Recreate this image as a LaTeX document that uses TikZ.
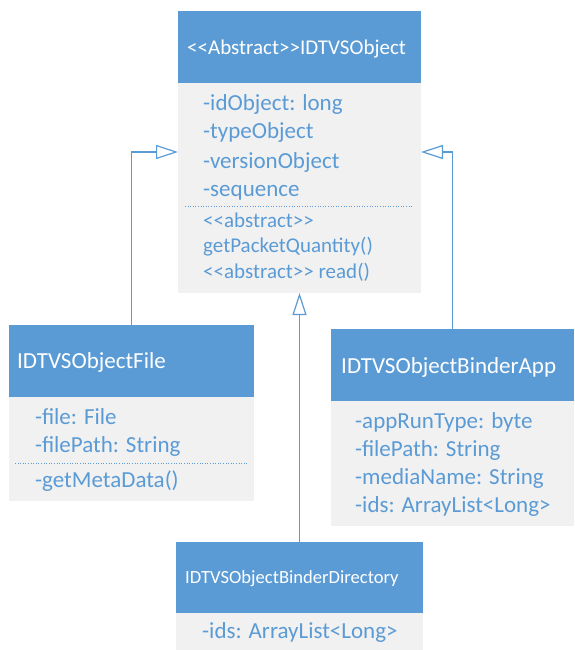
\documentclass[tikz,border=0pt]{standalone}
\usepackage{fontspec}
\setmainfont{Carlito}
\usetikzlibrary{arrows.meta}
\definecolor{umlblue}{HTML}{5B9BD5}
\definecolor{umlgrey}{HTML}{F1F1F1}
% guillemet pairs written as two separate characters
\newcommand\ltlt{<\kern0pt<}
\newcommand\gtgt{>\kern0pt>}
\begin{document}
\begin{tikzpicture}[x=1pt,y=-1pt,
  classbox/.style={fill=umlgrey,draw=none,anchor=north west,inner sep=0pt,outer sep=0pt},
  headbox/.style={fill=umlblue,draw=none,anchor=north west,inner sep=0pt,outer sep=0pt},
  title/.style={anchor=base west,inner sep=0pt,text=white,font=\fontsize{23}{28}\selectfont},
  member/.style={anchor=base west,inner sep=0pt,text=umlblue,font=\fontsize{23}{28}\selectfont},
  method/.style={anchor=base west,inner sep=0pt,text=umlblue,font=\fontsize{21}{26}\selectfont},
  sep/.style={draw=umlblue,line width=0.6pt,dotted},
  inherit/.style={draw=umlblue,line width=1.2pt,-{Triangle[open,length=22pt,width=14pt]}}]
\useasboundingbox[fill=white] (0,0) rectangle (574,650);

% IDTVSObject
\node[classbox,minimum width=243pt,minimum height=282pt] (abs) at (178,11) {};
\node[headbox,minimum width=243pt,minimum height=72pt] (absH) at (abs.north west) {};
\node[title,font=\fontsize{21}{26}\selectfont] (absT) at (187,55) {\ltlt Abstract\gtgt IDTVSObject};
\node[member] (a1) at (203,111) {-idObject: long};
\node[member] (a2) at (203,139) {-typeObject};
\node[member] (a3) at (203,168) {-versionObject};
\node[member] (a4) at (203,196) {-sequence};
\coordinate (absS1) at (185,206);
\coordinate (absS2) at (413,206);
\draw[sep] (absS1) -- (absS2);
\node[method] (a5) at (203,227) {\ltlt abstract\gtgt};
\node[method] (a6) at (203,252) {getPacketQuantity()};
\node[method] (a7) at (203,278) {\ltlt abstract\gtgt{} read()};

% IDTVSObjectFile
\node[classbox,minimum width=245pt,minimum height=176pt] (file) at (9,325) {};
\node[headbox,minimum width=245pt,minimum height=72pt] (fileH) at (file.north west) {};
\node[title] (fileT) at (17,368) {IDTVSObjectFile};
\node[member] (f1) at (35,424) {-file: File};
\node[member] (f2) at (35,452) {-filePath: String};
\coordinate (fileS1) at (15,463);
\coordinate (fileS2) at (248,463);
\draw[sep] (fileS1) -- (fileS2);
\node[member] (f3) at (35,487) {-getMetaData()};

% IDTVSObjectBinderApp
\node[classbox,minimum width=243pt,minimum height=197pt] (app) at (331,329) {};
\node[headbox,minimum width=243pt,minimum height=72pt] (appH) at (app.north west) {};
\node[title] (appT) at (341,373) {IDTVSObjectBinderApp};
\node[member] (p1) at (355,428) {-appRunType: byte};
\node[member] (p2) at (355,456) {-filePath: String};
\node[member] (p3) at (355,484) {-mediaName: String};
\node[member] (p4) at (355,512) {-ids: ArrayList<Long>};

% IDTVSObjectBinderDirectory
\node[classbox,minimum width=247pt,minimum height=108pt] (dir) at (176,542) {};
\node[headbox,minimum width=247pt,minimum height=71pt] (dirH) at (dir.north west) {};
\node[title,font=\fontsize{18.6}{23}\selectfont] (dirT) at (185,583) {IDTVSObjectBinderDirectory};
\node[member] (d1) at (202,638) {-ids: ArrayList<Long>};

% generalisations
\draw[inherit] (file.north) |- (abs.west);
\draw[inherit] (app.north) |- (abs.east);
\draw[inherit] (dir.north) -- (abs.south);
\end{tikzpicture}
\end{document}
